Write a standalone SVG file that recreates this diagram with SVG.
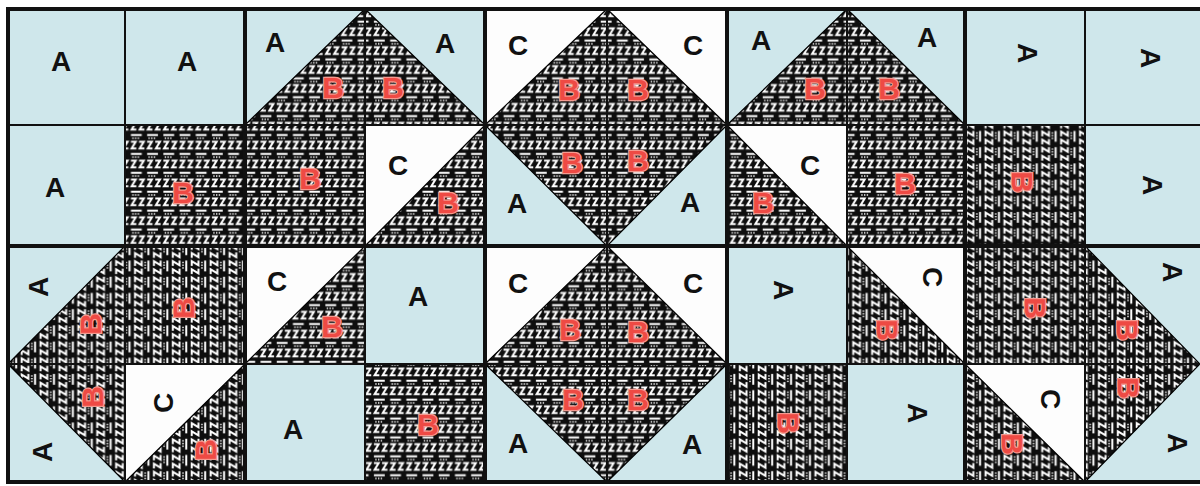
<svg xmlns="http://www.w3.org/2000/svg" width="1200" height="486" viewBox="0 0 1200 486">
<style>
.a{fill:#cfe7eb}
.c{fill:#fdfdfd}
.bh{fill:url(#ph);stroke:#000;stroke-width:1.2}
.bv{fill:url(#pv);stroke:#000;stroke-width:1.2}
text{font-family:"Liberation Sans",Arial,sans-serif;font-weight:bold;font-size:28px;text-anchor:middle;dominant-baseline:central;fill:#111}
text.b{fill:#ee4a44;stroke:#f49a90;stroke-width:2.5;paint-order:stroke;font-size:30px}
.thin{stroke:#111;stroke-width:2;fill:none}
.thick{stroke:#111;stroke-width:4;fill:none}
</style>
<defs>
<pattern id="ph" width="24" height="14" patternUnits="userSpaceOnUse" patternTransform="scale(1.35)">
<rect width="24" height="14" fill="#0e0e0e"/>
<path d="M1 2h8M13 2h8" stroke="#fff" stroke-width="1.6"/>
<path d="M2 4.4h6M14 4.4h6" stroke="#fff" stroke-width="1.1" stroke-dasharray="1 1"/>
<path d="M1 7h3.5l-3 5h3.5M7 7h3.5l-3 5h3.5M13 7h3.5l-3 5h3.5M19 7h3.5l-3 5h3.5" fill="none" stroke="#fff" stroke-width="1.5"/>
</pattern>
<pattern id="pv" width="24" height="14" patternUnits="userSpaceOnUse" patternTransform="rotate(90) scale(1.35)">
<rect width="24" height="14" fill="#0e0e0e"/>
<path d="M1 2h8M13 2h8" stroke="#fff" stroke-width="1.6"/>
<path d="M2 4.4h6M14 4.4h6" stroke="#fff" stroke-width="1.1" stroke-dasharray="1 1"/>
<path d="M1 7h3.5l-3 5h3.5M7 7h3.5l-3 5h3.5M13 7h3.5l-3 5h3.5M19 7h3.5l-3 5h3.5" fill="none" stroke="#fff" stroke-width="1.5"/>
</pattern>
</defs>
<rect width="1200" height="486" fill="#fff"/>

<!-- Row 0 -->
<g id="r0c0"><rect class="a" x="8" y="9" width="117" height="116"/><text x="61" y="61">A</text></g>
<g id="r0c1"><rect class="a" x="125" y="9" width="120" height="116"/><text x="187" y="61">A</text></g>
<g id="r0c2"><rect class="a" x="245" y="9" width="120" height="116"/><polygon class="bh" points="245,125 365,9 365,125"/><text x="275" y="42">A</text><text class="b" x="333" y="87">B</text></g>
<g id="r0c3"><rect class="a" x="365" y="9" width="120" height="116"/><polygon class="bh" points="365,9 365,125 485,125"/><text x="445" y="43">A</text><text class="b" x="393" y="87">B</text></g>
<g id="r0c4"><rect class="c" x="485" y="9" width="122" height="116"/><polygon class="bh" points="485,125 607,9 607,125"/><text x="518" y="45">C</text><text class="b" x="569" y="89">B</text></g>
<g id="r0c5"><rect class="c" x="607" y="9" width="120" height="116"/><polygon class="bh" points="607,9 607,125 727,125"/><text x="693" y="45">C</text><text class="b" x="638" y="89">B</text></g>
<g id="r0c6"><rect class="a" x="727" y="9" width="120" height="116"/><polygon class="bh" points="727,125 847,9 847,125"/><text x="761" y="40">A</text><text class="b" x="815" y="88">B</text></g>
<g id="r0c7"><rect class="a" x="847" y="9" width="118" height="116"/><polygon class="bh" points="847,9 847,125 965,125"/><text x="927" y="37">A</text><text class="b" x="889" y="88">B</text></g>
<g id="r0c8"><rect class="a" x="965" y="9" width="120" height="116"/><text transform="translate(1027 53) rotate(90)">A</text></g>
<g id="r0c9"><rect class="a" x="1085" y="9" width="115" height="116"/><text transform="translate(1150 58) rotate(90)">A</text></g>

<!-- Row 1 -->
<g id="r1c0"><rect class="a" x="8" y="125" width="117" height="121"/><text x="55" y="187">A</text></g>
<g id="r1c1"><rect class="bh" x="125" y="125" width="120" height="121"/><text class="b" x="183" y="192">B</text></g>
<g id="r1c2"><rect class="bh" x="245" y="125" width="120" height="121"/><text class="b" x="310" y="178">B</text></g>
<g id="r1c3"><rect class="c" x="365" y="125" width="120" height="121"/><polygon class="bh" points="365,246 485,125 485,246"/><text x="398" y="165">C</text><text class="b" x="448" y="202">B</text></g>
<g id="r1c4"><rect class="a" x="485" y="125" width="122" height="121"/><polygon class="bh" points="485,125 607,125 607,246"/><text x="517" y="203">A</text><text class="b" x="572" y="162">B</text></g>
<g id="r1c5"><rect class="a" x="607" y="125" width="120" height="121"/><polygon class="bh" points="607,125 727,125 607,246"/><text x="690" y="202">A</text><text class="b" x="638" y="160">B</text></g>
<g id="r1c6"><rect class="c" x="727" y="125" width="120" height="121"/><polygon class="bh" points="727,125 727,246 847,246"/><text x="810" y="165">C</text><text class="b" x="763" y="202">B</text></g>
<g id="r1c7"><rect class="bh" x="847" y="125" width="118" height="121"/><text class="b" x="905" y="183">B</text></g>
<g id="r1c8"><rect class="bv" x="965" y="125" width="120" height="121"/><text class="b" transform="translate(1022 182) rotate(90)">B</text></g>
<g id="r1c9"><rect class="a" x="1085" y="125" width="115" height="121"/><text transform="translate(1152 185) rotate(90)">A</text></g>

<!-- Row 2 -->
<g id="r2c0"><rect class="a" x="8" y="246" width="117" height="118"/><polygon class="bv" points="8,364 125,246 125,364"/><text transform="translate(38 287) rotate(-90)">A</text><text class="b" transform="translate(90 324) rotate(-90)">B</text></g>
<g id="r2c1"><rect class="bv" x="125" y="246" width="120" height="118"/><text class="b" transform="translate(183 308) rotate(-90)">B</text></g>
<g id="r2c2"><rect class="c" x="245" y="246" width="120" height="118"/><polygon class="bh" points="245,364 365,246 365,364"/><text x="277" y="281">C</text><text class="b" x="332" y="326">B</text></g>
<g id="r2c3"><rect class="a" x="365" y="246" width="120" height="118"/><text x="418" y="296">A</text></g>
<g id="r2c4"><rect class="c" x="485" y="246" width="122" height="118"/><polygon class="bh" points="485,364 607,246 607,364"/><text x="518" y="283">C</text><text class="b" x="570" y="329">B</text></g>
<g id="r2c5"><rect class="c" x="607" y="246" width="120" height="118"/><polygon class="bh" points="607,246 607,364 727,364"/><text x="693" y="283">C</text><text class="b" x="638" y="331">B</text></g>
<g id="r2c6"><rect class="a" x="727" y="246" width="120" height="118"/><text transform="translate(783 290) rotate(90)">A</text></g>
<g id="r2c7"><rect class="c" x="847" y="246" width="118" height="118"/><polygon class="bv" points="847,246 847,364 965,364"/><text transform="translate(932 277) rotate(90)">C</text><text class="b" transform="translate(887 330) rotate(90)">B</text></g>
<g id="r2c8"><rect class="bv" x="965" y="246" width="120" height="118"/><text class="b" transform="translate(1035 308) rotate(90)">B</text></g>
<g id="r2c9"><rect class="a" x="1085" y="246" width="115" height="118"/><polygon class="bv" points="1085,246 1085,364 1200,364"/><text transform="translate(1172 272) rotate(90)">A</text><text class="b" transform="translate(1127 330) rotate(90)">B</text></g>

<!-- Row 3 -->
<g id="r3c0"><rect class="a" x="8" y="364" width="117" height="118"/><polygon class="bv" points="8,364 125,364 125,482"/><text transform="translate(42 452) rotate(-90)">A</text><text class="b" transform="translate(92 397) rotate(-90)">B</text></g>
<g id="r3c1"><rect class="c" x="125" y="364" width="120" height="118"/><polygon class="bv" points="125,482 245,364 245,482"/><text transform="translate(163 403) rotate(-90)">C</text><text class="b" transform="translate(205 450) rotate(-90)">B</text></g>
<g id="r3c2"><rect class="a" x="245" y="364" width="120" height="118"/><text x="293" y="429">A</text></g>
<g id="r3c3"><rect class="bh" x="365" y="364" width="120" height="118"/><text class="b" x="428" y="424">B</text></g>
<g id="r3c4"><rect class="a" x="485" y="364" width="122" height="118"/><polygon class="bh" points="485,364 607,364 607,482"/><text x="518" y="443">A</text><text class="b" x="573" y="399">B</text></g>
<g id="r3c5"><rect class="a" x="607" y="364" width="120" height="118"/><polygon class="bh" points="607,364 727,364 607,482"/><text x="692" y="444">A</text><text class="b" x="638" y="399">B</text></g>
<g id="r3c6"><rect class="bv" x="727" y="364" width="120" height="118"/><text class="b" transform="translate(788 423) rotate(90)">B</text></g>
<g id="r3c7"><rect class="a" x="847" y="364" width="118" height="118"/><text transform="translate(917 413) rotate(90)">A</text></g>
<g id="r3c8"><rect class="c" x="965" y="364" width="120" height="118"/><polygon class="bv" points="965,364 965,482 1085,482"/><text transform="translate(1050 399) rotate(90)">C</text><text class="b" transform="translate(1012 444) rotate(90)">B</text></g>
<g id="r3c9"><rect class="a" x="1085" y="364" width="115" height="118"/><polygon class="bv" points="1085,364 1200,364 1085,482"/><text transform="translate(1177 443) rotate(90)">A</text><text class="b" transform="translate(1128 388) rotate(90)">B</text></g>

<!-- Grid lines -->
<g id="grid">
<path class="thin" d="M8 125H1200M8 364H1200M125 9V482M365 9V482M607 9V482M847 9V482M1085 9V482"/>
<path class="thick" d="M8 246H1200M245 9V482M485 9V482M727 9V482M965 9V482"/>
<path class="thick" d="M1200 9H8V482H1200" stroke-width="3.5"/>
</g>
</svg>
